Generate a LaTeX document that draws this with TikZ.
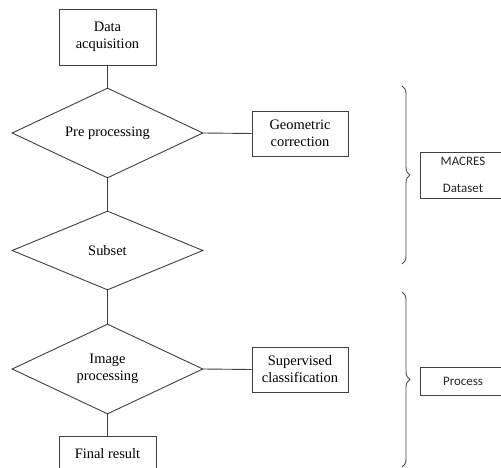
\documentclass[tikz,border=0pt]{standalone}
\usepackage{fontspec}
\setmainfont{Liberation Serif}
\newfontfamily\labelsans{Carlito}
\usetikzlibrary{shapes.geometric,decorations.pathreplacing}
\begin{document}
\begin{tikzpicture}[x=1bp,y=-1bp,
  ln/.style={draw=black!75, line width=0.9bp},
  txt/.style={font=\fontsize{14.5}{17}\selectfont, text=black},
  box/.style={ln, txt, rectangle, inner sep=0pt, align=center},
  dia/.style={ln, txt, diamond, inner sep=0pt, aspect=2.1, align=center, minimum width=191bp},
  side/.style={ln, rectangle, inner sep=0pt, align=center, minimum width=86bp,
    font=\labelsans\fontsize{13}{27}\selectfont, text=black!85},
  brc/.style={draw=black!70, line width=0.9bp, decorate, decoration={brace, amplitude=8bp}}]
\fill[white] (0,0) rectangle (501,468);
\useasboundingbox (0,0) rectangle (501,468);
\begin{scope}
\clip (0,0) rectangle (501,468);
\node[box, minimum width=97bp, minimum height=56bp] (data) at (107.5,37) {Data\\acquisition};
\node[dia, minimum height=90bp] (pre) at (107.5,133) {Pre processing};
\node[box, minimum width=96bp, minimum height=45bp] (geo) at (300,133.5) {Geometric\\correction};
\node[dia, minimum height=79bp] (subset) at (107.5,250.5) {Subset};
\node[dia, minimum height=90bp] (img) at (107.5,369) {Image\\processing};
\node[box, minimum width=96bp, minimum height=45bp] (sup) at (300,369.5) {Supervised\\classification};
\node[box, minimum width=97bp, minimum height=36bp] (final) at (107.5,454) {Final result};
\node[side, minimum height=46bp] (macres) at (463,175) {MACRES\\Dataset};
\node[side, minimum height=28bp] (process) at (463,381) {Process};
\draw[ln] (data.south) -- (pre.north);
\draw[ln] (pre.east) -- (geo.west);
\draw[ln] (pre.south) -- (subset.north);
\draw[ln] (subset.south) -- (img.north);
\draw[ln] (img.east) -- (sup.west);
\draw[ln] (img.south) -- (final.north);
\coordinate (b1t) at (402,86);
\coordinate (b1b) at (402,264);
\coordinate (b2t) at (402,292);
\coordinate (b2b) at (402,467);
\draw[brc] (b1t) -- (b1b);
\draw[brc] (b2t) -- (b2b);
\end{scope}
\end{tikzpicture}
\end{document}
